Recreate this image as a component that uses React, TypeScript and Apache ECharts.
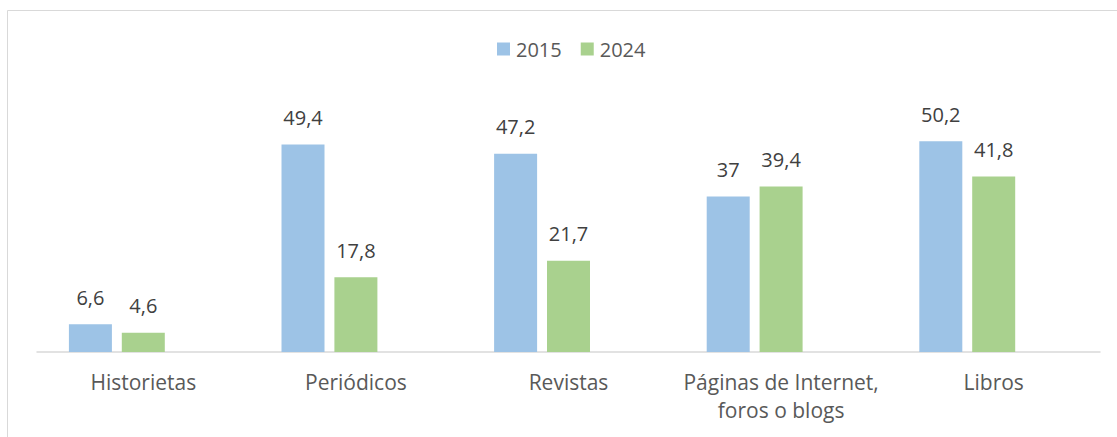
import React, { useEffect, useRef } from "react";
import * as echarts from "echarts";

const categories = ["Historietas", "Periódicos", "Revistas", "Páginas de Internet,\nforos o blogs", "Libros"];
const values2015 = [6.6, 49.4, 47.2, 37, 50.2];
const values2024 = [4.6, 17.8, 21.7, 39.4, 41.8];
const spacerValues = [null, null, null, null, null];

const FONT = "'Open Sans', sans-serif";
const fmt = (v: number) => String(v).replace(".", ",");

export default function App() {
  const ref = useRef<HTMLDivElement>(null);
  useEffect(() => {
    if (!ref.current) return;
    const chart = echarts.init(ref.current, undefined, { renderer: "svg" });
    const label = {
      show: true,
      position: "top" as const,
      distance: 15,
      fontFamily: FONT,
      fontSize: 20,
      lineHeight: 24,
      color: "#404040",
      formatter: (p: any) => fmt(p.value),
    };
    chart.setOption({
      animation: false,
      backgroundColor: "#ffffff",
      graphic: [
        {
          type: "rect",
          shape: { x: 7.5, y: 10.5, width: 2000, height: 2000 },
          style: { fill: "none", stroke: "#d9d9d9", lineWidth: 1 },
          silent: true,
        },
      ],
      legend: {
        data: ["2015", "2024"],
        left: 497,
        top: 39,
        itemWidth: 13,
        itemHeight: 13,
        itemGap: 19,
        icon: "rect",
        textStyle: { fontFamily: FONT, fontSize: 20, lineHeight: 20, color: "#595959", padding: [0, 0, 0, 1] },
        padding: 0,
      },
      grid: { left: 37, right: 17, top: 100, bottom: 85, containLabel: false },
      xAxis: {
        type: "category",
        data: categories,
        axisLine: { lineStyle: { color: "#d9d9d9", width: 1.5 } },
        axisTick: { show: false },
        axisLabel: {
          fontFamily: FONT,
          fontSize: 21,
          lineHeight: 28,
          color: "#595959",
          margin: 16,
          interval: 0,
        },
      },
      yAxis: {
        type: "value",
        min: 0,
        max: 60,
        show: false,
        splitLine: { show: false },
      },
      series: [
        {
          name: "2015",
          type: "bar",
          data: values2015,
          barWidth: 43,
          barGap: "23%",
          itemStyle: { color: "#9dc3e6" },
          label,
        },
        {
          name: "2024",
          type: "bar",
          data: values2024,
          barWidth: 43,
          barGap: "23%",
          itemStyle: { color: "#a9d18e" },
          label,
        },
        {
          name: "spacer",
          type: "bar",
          data: spacerValues,
          barWidth: 43,
          barGap: "23%",
          itemStyle: { color: "transparent" },
        },
      ],
    });
    return () => chart.dispose();
  }, []);
  return (
    <div
      ref={ref}
      style={{ position: "fixed", left: 0, top: 0, width: 1117, height: 437 }}
    />
  );
}
